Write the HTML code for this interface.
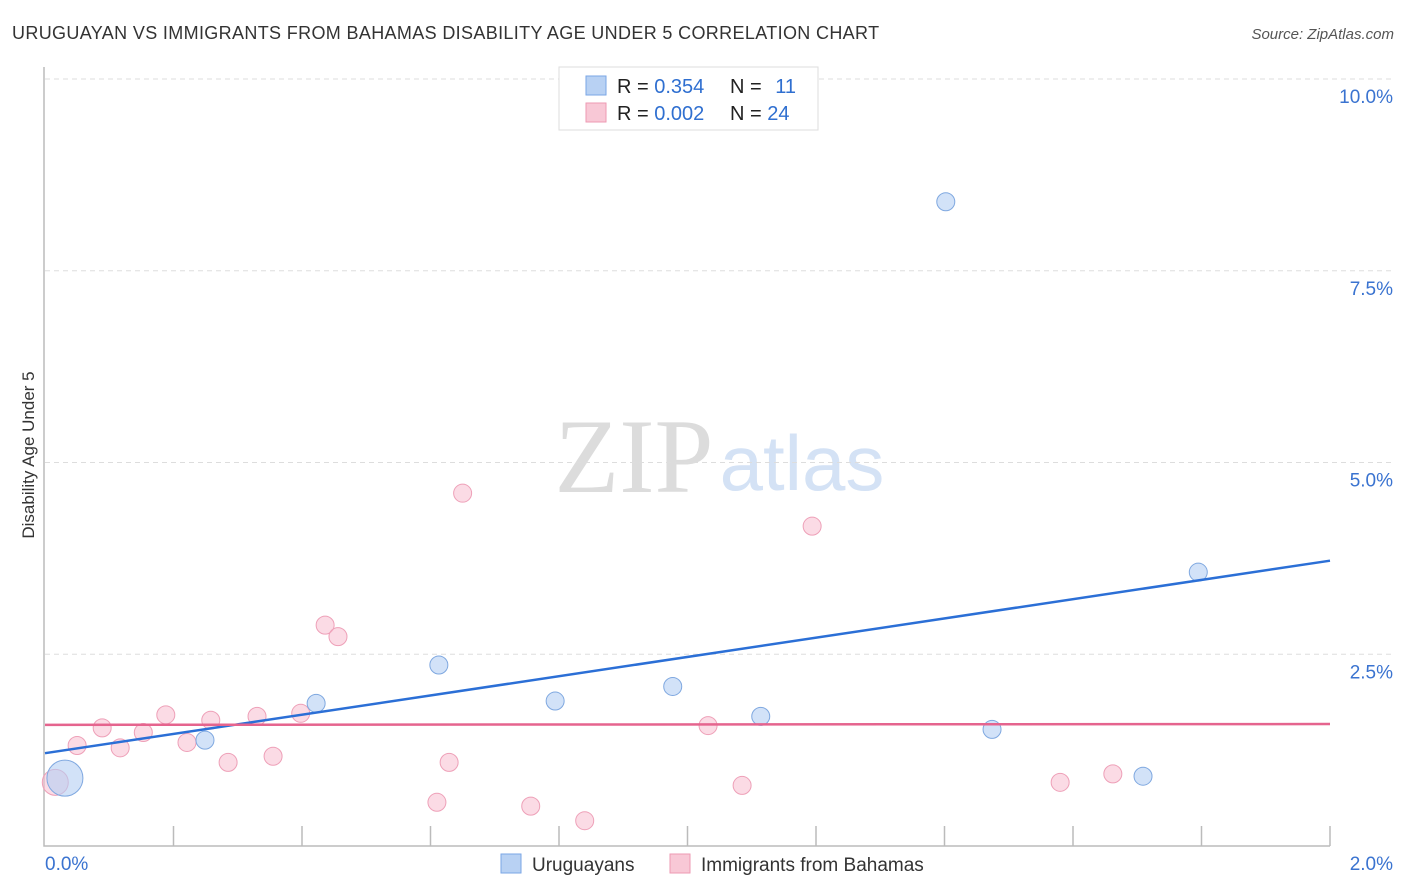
<!DOCTYPE html>
<html><head><meta charset="utf-8"><style>
body{margin:0;background:#fff;font-family:"Liberation Sans",sans-serif;}
svg{display:block}
</style></head><body>
<svg width="1406" height="892" id="c">
<text x="12" y="39" font-size="18" letter-spacing="0.35" fill="#333">URUGUAYAN VS IMMIGRANTS FROM BAHAMAS DISABILITY AGE UNDER 5 CORRELATION CHART</text>
<text x="1394" y="39" font-size="15" fill="#555" font-style="italic" text-anchor="end">Source: ZipAtlas.com</text>
<text x="634" y="492" font-size="106" fill="#dcdcdc" font-family="Liberation Serif,serif" text-anchor="middle">ZIP</text>
<text x="802" y="490" font-size="78" fill="#d4e2f5" text-anchor="middle">atlas</text>
<text transform="translate(34,455) rotate(-90)" font-size="17" fill="#333" text-anchor="middle">Disability Age Under 5</text>
<g id="grid"></g><g id="marks"></g>
<g>
<rect x="559" y="67" width="259" height="63" fill="#fff" stroke="#ddd"/>
<rect x="586" y="76" width="20" height="19" fill="#b8d1f3" stroke="#7aa6e6"/>
<rect x="586" y="103" width="20" height="19" fill="#f8c8d6" stroke="#ee9ab3"/>
<text x="617" y="93" font-size="20" fill="#222">R = <tspan fill="#2f6fd0">0.354</tspan></text>
<text x="730" y="93" font-size="20" fill="#222">N = <tspan fill="#2f6fd0" dx="8">11</tspan></text>
<text x="617" y="120" font-size="20" fill="#222">R = <tspan fill="#2f6fd0">0.002</tspan></text>
<text x="730" y="120" font-size="20" fill="#222">N = <tspan fill="#2f6fd0">24</tspan></text>
</g>
<g>
<rect x="501" y="854" width="20" height="19" fill="#b8d1f3" stroke="#7aa6e6"/>
<text x="532" y="871" font-size="19" fill="#333">Uruguayans</text>
<rect x="670" y="854" width="20" height="19" fill="#f8c8d6" stroke="#ee9ab3"/>
<text x="701" y="871" font-size="19" fill="#333">Immigrants from Bahamas</text>
</g>
</svg>
<script>
const yTicks=[2.5,5.0,7.5,10.0];
const xTickLabels=["0.0%","2.0%"];
const uruX=[0.031,0.249,0.422,0.613,0.794,0.977,1.114,1.402,1.474,1.709,1.795];
const uruY=[0.885,1.38,1.86,2.36,1.89,2.08,1.69,8.40,1.52,0.91,3.57];
const uruR=[18,9,9,9,9,9,9,9,9,9,9];
const bahX=[0.016,0.050,0.089,0.117,0.153,0.188,0.221,0.258,0.285,0.330,0.355,0.398,0.436,0.456,0.610,0.629,0.650,0.756,0.840,1.032,1.085,1.194,1.580,1.662];
const bahY=[0.83,1.31,1.54,1.28,1.48,1.71,1.35,1.64,1.09,1.69,1.17,1.73,2.88,2.73,0.57,1.09,4.60,0.52,0.33,1.57,0.79,4.17,0.83,0.94];
const uruTrend=[1.21,3.72];
const bahTrend=[1.58,1.59];
const X=v=>45+v*642.5, Y=v=>846-v*76.7;
const NS="http://www.w3.org/2000/svg";
const g=document.getElementById('grid'), m=document.getElementById('marks');
function mk(tag,at,par){const e=document.createElementNS(NS,tag);for(const k in at)e.setAttribute(k,at[k]);par.appendChild(e);return e;}
yTicks.forEach(t=>{
 const l=mk('line',{x1:45,x2:1394,y1:Y(t),y2:Y(t),stroke:'#ddd','stroke-dasharray':'5,4'},g);
 
 
 const tx=mk('text',{x:1393,y:Y(t)+24,'font-size':19,fill:'#3a73d0','text-anchor':'end'},g);
 tx.textContent=t.toFixed(1)+'%';
 
 
});
const ax=mk('path',{d:'M44 67V846H1330',stroke:'#bbb',fill:'none','stroke-width':1.5},g);


for(let i=1;i<=10;i++){const tk=mk('line',{x1:X(i*0.2),x2:X(i*0.2),y1:826,y2:846,stroke:'#bbb','stroke-width':1.5},g);
 
 }
xTickLabels.forEach((s,i)=>{const t=mk('text',{x:i?1393:45,y:870,'font-size':19,fill:'#3a73d0','text-anchor':i?'end':'start'},g);t.textContent=s;
 
 });
bahX.forEach((x,i)=>{const c=mk('circle',{cx:X(x),cy:Y(bahY[i]),r:i==0?13:9,fill:'rgba(248,190,208,0.55)',stroke:'#eea0b8'},m);
 
 });
uruX.forEach((x,i)=>{const c=mk('circle',{cx:X(x),cy:Y(uruY[i]),r:uruR[i],fill:'rgba(180,207,243,0.6)',stroke:'#7fa8e0'},m);
 
 });
const l1=mk('line',{x1:X(0),x2:X(2),y1:Y(uruTrend[0]),y2:Y(uruTrend[1]),stroke:'#2b6fd6','stroke-width':2.5},m);


const l2=mk('line',{x1:X(0),x2:X(2),y1:Y(bahTrend[0]),y2:Y(bahTrend[1]),stroke:'#e5648e','stroke-width':2.5},m);


</script>
</body></html>
